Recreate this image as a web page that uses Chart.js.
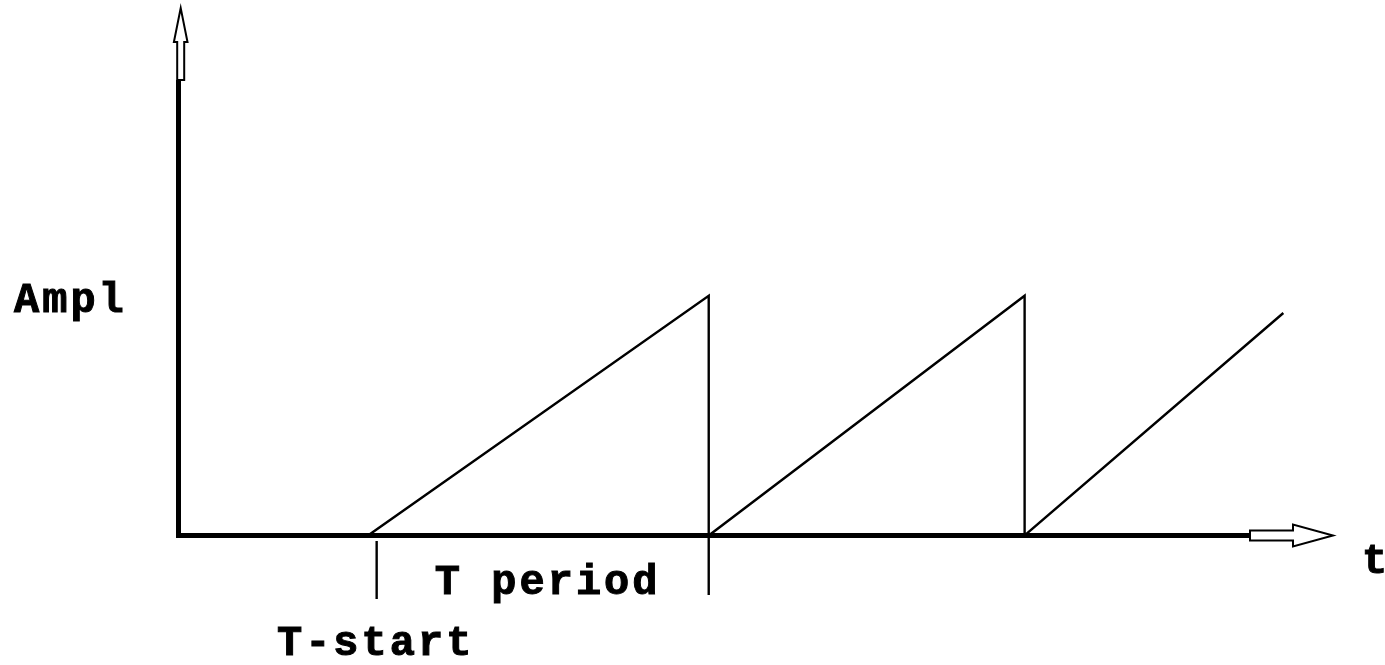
<!DOCTYPE html>
<html>
<head>
<meta charset="utf-8">
<script src="https://cdn.jsdelivr.net/npm/chart.js@4.4.1/dist/chart.umd.min.js"></script>
<style>
  html, body { margin: 0; padding: 0; background: #fff; }
  canvas { display: block; }
</style>
</head>
<body>
<canvas id="saw" width="1385" height="665"></canvas>
<script>
// sawtooth: time (arbitrary units) and amplitude (peak = 1)
const sawTimes = [0, 16.45, 45.95, 45.95, 73.3, 73.3, 95.7];
const sawAmpl  = [0, 0, 1, 0, 1, 0, 0.928];

// small marker lines under the time axis
const tickTimes = [17.2, 45.95];
const tickTop   = [-0.023, 0];
const tickBot   = [-0.265, -0.248];

const labels = { amplitude: 'Ampl', time: 't', period: 'T period', start: 'T-start' };

const sawPoints = sawTimes.map((t, i) => ({ x: t, y: sawAmpl[i] }));
const tickSets = tickTimes.map((t, i) => ({
  data: [{ x: t, y: tickTop[i] }, { x: t, y: tickBot[i] }],
  borderColor: '#000',
  borderWidth: 2.4,
  pointRadius: 0,
  showLine: true
}));

const FONT = 'bold 42px "Liberation Mono", "Courier New", monospace';

const axesPlugin = {
  id: 'axesPlugin',
  afterDatasetsDraw(chart) {
    const ctx = chart.ctx;
    const area = chart.chartArea;
    const xs = chart.scales.x, ys = chart.scales.y;
    const x0 = area.left + 0.5;
    const y0 = ys.getPixelForValue(0);

    ctx.save();
    ctx.strokeStyle = '#000';
    ctx.fillStyle = '#fff';
    ctx.lineJoin = 'miter';

    // thick axes
    ctx.lineWidth = 5;
    ctx.beginPath();
    ctx.moveTo(x0, 80);
    ctx.lineTo(x0, y0);
    ctx.lineTo(1250, y0);
    ctx.stroke();

    // hollow arrow on y axis
    const ax = x0 + 2.2;
    ctx.lineWidth = 2;
    ctx.beginPath();
    ctx.moveTo(ax - 3.5, 80);
    ctx.lineTo(ax - 3.5, 42);
    ctx.lineTo(ax - 6.8, 42);
    ctx.lineTo(ax, area.top);
    ctx.lineTo(ax + 6.8, 42);
    ctx.lineTo(ax + 3.5, 42);
    ctx.lineTo(ax + 3.5, 80);
    ctx.closePath();
    ctx.fill();
    ctx.stroke();

    // hollow arrow on x axis
    const tip = area.right;
    ctx.beginPath();
    ctx.moveTo(1250, y0 - 5);
    ctx.lineTo(tip - 40, y0 - 5);
    ctx.lineTo(tip - 40, y0 - 11);
    ctx.lineTo(tip, y0);
    ctx.lineTo(tip - 40, y0 + 11);
    ctx.lineTo(tip - 40, y0 + 5);
    ctx.lineTo(1250, y0 + 5);
    ctx.closePath();
    ctx.fill();
    ctx.stroke();

    // text
    ctx.fillStyle = '#000';
    ctx.strokeStyle = '#000';
    ctx.lineWidth = 1;
    ctx.font = FONT;
    ctx.letterSpacing = '3px';
    ctx.textBaseline = 'alphabetic';
    const put = (s, x, y) => { ctx.fillText(s, x, y); ctx.strokeText(s, x, y); };

    ctx.textAlign = 'left';
    put(labels.amplitude, 14, 312);
    put(labels.time, 1362, 573);

    ctx.textAlign = 'center';
    const p1 = xs.getPixelForValue(tickTimes[0]);
    const p2 = xs.getPixelForValue(tickTimes[1]);
    put(labels.period, (p1 + p2) / 2 + 5, 594);
    put(labels.start, p1 - 1, 655);
    ctx.restore();
  }
};

new Chart(document.getElementById('saw'), {
  type: 'scatter',
  data: {
    datasets: [{
      data: sawPoints,
      borderColor: '#000',
      borderWidth: 2.4,
      pointRadius: 0,
      showLine: true,
      tension: 0
    }, ...tickSets]
  },
  options: {
    responsive: false,
    animation: false,
    events: [],
    layout: { padding: { left: 178, right: 52, top: 8, bottom: 57.6 } },
    plugins: { legend: { display: false }, tooltip: { enabled: false } },
    scales: {
      x: { type: 'linear', min: 0, max: 100, display: false },
      y: { type: 'linear', min: -0.3, max: 2.2, display: false }
    }
  },
  plugins: [axesPlugin]
});
</script>
</body>
</html>
